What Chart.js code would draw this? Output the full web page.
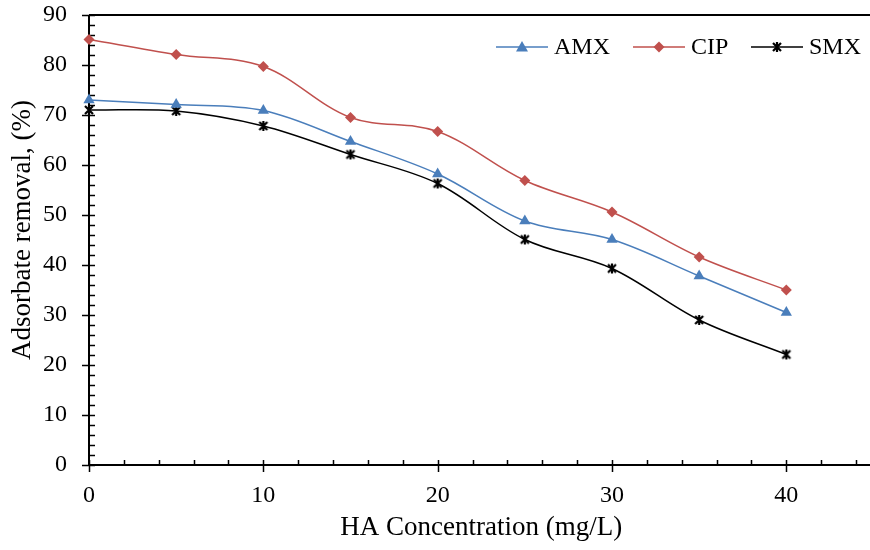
<!DOCTYPE html>
<html>
<head>
<meta charset="utf-8">
<script src="https://cdn.jsdelivr.net/npm/chart.js@4/dist/chart.umd.min.js"></script>
<style>
html, body { margin: 0; padding: 0; background: #fff; overflow: hidden; }
#wrap { width: 880px; height: 550px; }
</style>
</head>
<body>
<div id="wrap"><canvas id="chart" width="880" height="550"></canvas></div>
<script>
// Ma'lumotlar
const haConc = [0, 5, 10, 15, 20, 25, 30, 35, 40];
const amx = [73.0, 72.1, 70.9, 64.7, 58.2, 48.8, 45.1, 37.8, 30.5];
const cip = [85.1, 82.1, 79.7, 69.5, 66.7, 56.9, 50.6, 41.6, 35.0];
const smx = [71.0, 70.8, 67.8, 62.1, 56.3, 45.1, 39.3, 29.0, 22.1];
const xTicks = [0, 10, 20, 30, 40];
const yTicks = [0, 10, 20, 30, 40, 50, 60, 70, 80, 90];
const seriesNames = ['AMX', 'CIP', 'SMX'];

const FONT = "'Liberation Serif', 'Times New Roman', serif";
const BLUE = '#4A7EBB';
const RED = '#C0504D';
const BLACK = '#000000';

// SMX uchun yulduzcha marker
function makeStar() {
    const c = document.createElement('canvas');
    c.width = 12; c.height = 12;
    const g = c.getContext('2d');
    g.strokeStyle = '#000';
    g.lineWidth = 2.2;
    g.beginPath();
    g.moveTo(2, 2); g.lineTo(10, 10);
    g.moveTo(10, 2); g.lineTo(2, 10);
    g.moveTo(6, 1); g.lineTo(6, 11);
    g.stroke();
    return c;
}
const starMarker = makeStar();

function pts(vals) {
    return haConc.map((x, i) => ({ x: x, y: vals[i] }));
}

// Marker chizish (legend uchun)
function drawMarker(ctx, style, x, y, color) {
    ctx.save();
    ctx.fillStyle = color;
    if (style === 'triangle') {
        ctx.beginPath();
        ctx.moveTo(x, y - 6);
        ctx.lineTo(x + 6, y + 4.5);
        ctx.lineTo(x - 6, y + 4.5);
        ctx.closePath();
        ctx.fill();
    } else if (style === 'rectRot') {
        ctx.beginPath();
        ctx.moveTo(x, y - 5.5);
        ctx.lineTo(x + 5.5, y);
        ctx.lineTo(x, y + 5.5);
        ctx.lineTo(x - 5.5, y);
        ctx.closePath();
        ctx.fill();
    } else {
        ctx.drawImage(style, x - 6, y - 6);
    }
    ctx.restore();
}

// O'qlar, tick chiziqlari va legend
const axesPlugin = {
    id: 'axesPlugin',
    beforeDatasetsDraw(chart) {
        const { ctx, chartArea, scales } = chart;
        const xs = scales.x, ys = scales.y;
        ctx.save();
        ctx.strokeStyle = '#000';
        ctx.lineWidth = 2;
        ctx.beginPath();
        // chap o'q
        ctx.moveTo(chartArea.left, chartArea.top);
        ctx.lineTo(chartArea.left, chartArea.bottom);
        // pastki o'q
        ctx.moveTo(chartArea.left, chartArea.bottom);
        ctx.lineTo(chartArea.right, chartArea.bottom);
        // yuqori chiziq
        ctx.moveTo(chartArea.left, chartArea.top);
        ctx.lineTo(chartArea.right, chartArea.top);
        ctx.stroke();

        ctx.lineWidth = 1.5;
        ctx.beginPath();
        for (let v = 0; v <= 90; v += 2) {
            const py = Math.round(ys.getPixelForValue(v)) + 0.5;
            if (v % 10 === 0) {
                ctx.moveTo(chartArea.left - 7, py);
                ctx.lineTo(chartArea.left + 6, py);
            } else {
                ctx.moveTo(chartArea.left, py);
                ctx.lineTo(chartArea.left + 6, py);
            }
        }
        for (let v = 0; v <= 44; v += 2) {
            const px = Math.round(xs.getPixelForValue(v)) + 0.5;
            if (v % 10 === 0) {
                ctx.moveTo(px, chartArea.bottom - 5);
                ctx.lineTo(px, chartArea.bottom + 7);
            } else {
                ctx.moveTo(px, chartArea.bottom - 5);
                ctx.lineTo(px, chartArea.bottom);
            }
        }
        ctx.stroke();

        // Y o'q nomi (biroz yuqoriroq markazlangan)
        ctx.save();
        ctx.translate(23, 230);
        ctx.rotate(-Math.PI / 2);
        ctx.font = '27px ' + FONT;
        ctx.textAlign = 'center';
        ctx.textBaseline = 'middle';
        ctx.fillStyle = '#000';
        ctx.fillText('Adsorbate removal, (%)', 0, 0);
        ctx.restore();
        ctx.restore();
    },
    afterDraw(chart) {
        const { ctx } = chart;
        const starts = [496, 633, 751];
        ctx.save();
        ctx.font = '24px ' + FONT;
        ctx.textBaseline = 'middle';
        chart.data.datasets.forEach((ds, i) => {
            const x0 = starts[i], y = 47;
            ctx.strokeStyle = ds.borderColor;
            ctx.lineWidth = 1.5;
            ctx.beginPath();
            ctx.moveTo(x0, y);
            ctx.lineTo(x0 + 52, y);
            ctx.stroke();
            drawMarker(ctx, ds.pointStyle, x0 + 26, y, ds.backgroundColor);
            ctx.fillStyle = '#000';
            ctx.fillText(ds.label, x0 + 58, y + 1);
        });
        ctx.restore();
    }
};

const ctx = document.getElementById('chart').getContext('2d');

new Chart(ctx, {
    type: 'line',
    data: {
        datasets: [
            {
                label: seriesNames[0], data: pts(amx),
                borderColor: BLUE, backgroundColor: BLUE,
                pointStyle: 'triangle', pointRadius: 6.5
            },
            {
                label: seriesNames[1], data: pts(cip),
                borderColor: RED, backgroundColor: RED,
                pointStyle: 'rectRot', pointRadius: 5.5
            },
            {
                label: seriesNames[2], data: pts(smx),
                borderColor: BLACK, backgroundColor: BLACK,
                pointStyle: starMarker, pointRadius: 6
            }
        ]
    },
    options: {
        responsive: false,
        animation: false,
        devicePixelRatio: 1,
        layout: { padding: { top: 15, right: 2, left: 0, bottom: 0 } },
        elements: {
            line: { borderWidth: 1.5, tension: 0.35, fill: false },
            point: { borderWidth: 0, hoverRadius: 6 }
        },
        datasets: { line: { clip: false } },
        plugins: {
            legend: { display: false },
            tooltip: { enabled: false }
        },
        scales: {
            x: {
                type: 'linear',
                min: 0, max: 45,
                afterBuildTicks: (s) => { s.ticks = xTicks.map(v => ({ value: v })); },
                afterFit: (s) => { s.height = 85; s.paddingLeft = 0; s.paddingRight = 0; },
                grid: { display: false, drawTicks: false },
                border: { display: false },
                ticks: { color: '#000', padding: 16, font: { family: FONT, size: 24 } },
                title: {
                    display: true, text: 'HA Concentration (mg/L)', color: '#000',
                    font: { family: FONT, size: 27 }, padding: { top: 0, bottom: 6 }
                }
            },
            y: {
                min: 0, max: 90,
                afterBuildTicks: (s) => { s.ticks = yTicks.map(v => ({ value: v })); },
                afterFit: (s) => { s.width = 89; s.paddingTop = 0; s.paddingBottom = 0; },
                grid: { display: false, drawTicks: false },
                border: { display: false },
                ticks: { color: '#000', padding: 22, font: { family: FONT, size: 24 } },
                title: { display: false }
            }
        }
    },
    plugins: [axesPlugin]
});
</script>
</body>
</html>
